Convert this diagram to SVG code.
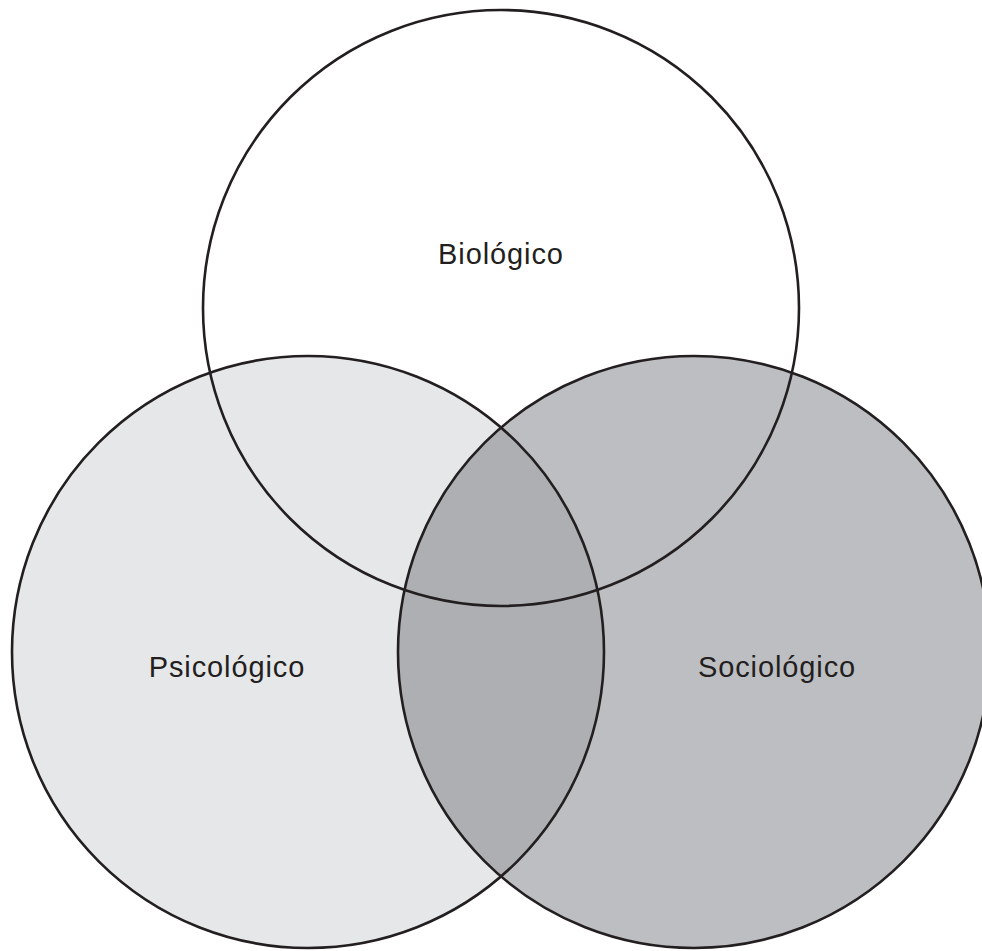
<svg xmlns="http://www.w3.org/2000/svg" width="982" height="951" viewBox="0 0 982 951">
  <defs>
    <style>
      .ring { fill: none; stroke: #231f20; stroke-width: 2.6; }
      .label { font-family: "Liberation Sans", Arial, sans-serif; font-size: 29px; fill: #231f20; text-anchor: middle; letter-spacing: 0.9px; }
    </style>
    <clipPath id="clipLeft">
      <circle cx="308" cy="652" r="296"/>
    </clipPath>
  </defs>
  <rect width="982" height="951" fill="#ffffff"/>
  <g id="fills">
    <circle cx="308" cy="652" r="296" fill="#e6e7e9"/>
    <circle cx="694" cy="652" r="296" fill="#bdbec1"/>
    <circle cx="694" cy="652" r="296" fill="#aeafb2" clip-path="url(#clipLeft)"/>
  </g>
  <g id="connectors"></g>
  <g id="biologico">
    <circle class="ring" cx="501" cy="308" r="298"/>
    <text class="label" x="501" y="264">Biológico</text>
  </g>
  <g id="psicologico">
    <circle class="ring" cx="308" cy="652" r="296"/>
    <text class="label" x="227" y="677">Psicológico</text>
  </g>
  <g id="sociologico">
    <circle class="ring" cx="694" cy="652" r="296"/>
    <text class="label" x="777" y="677">Sociológico</text>
  </g>
</svg>
